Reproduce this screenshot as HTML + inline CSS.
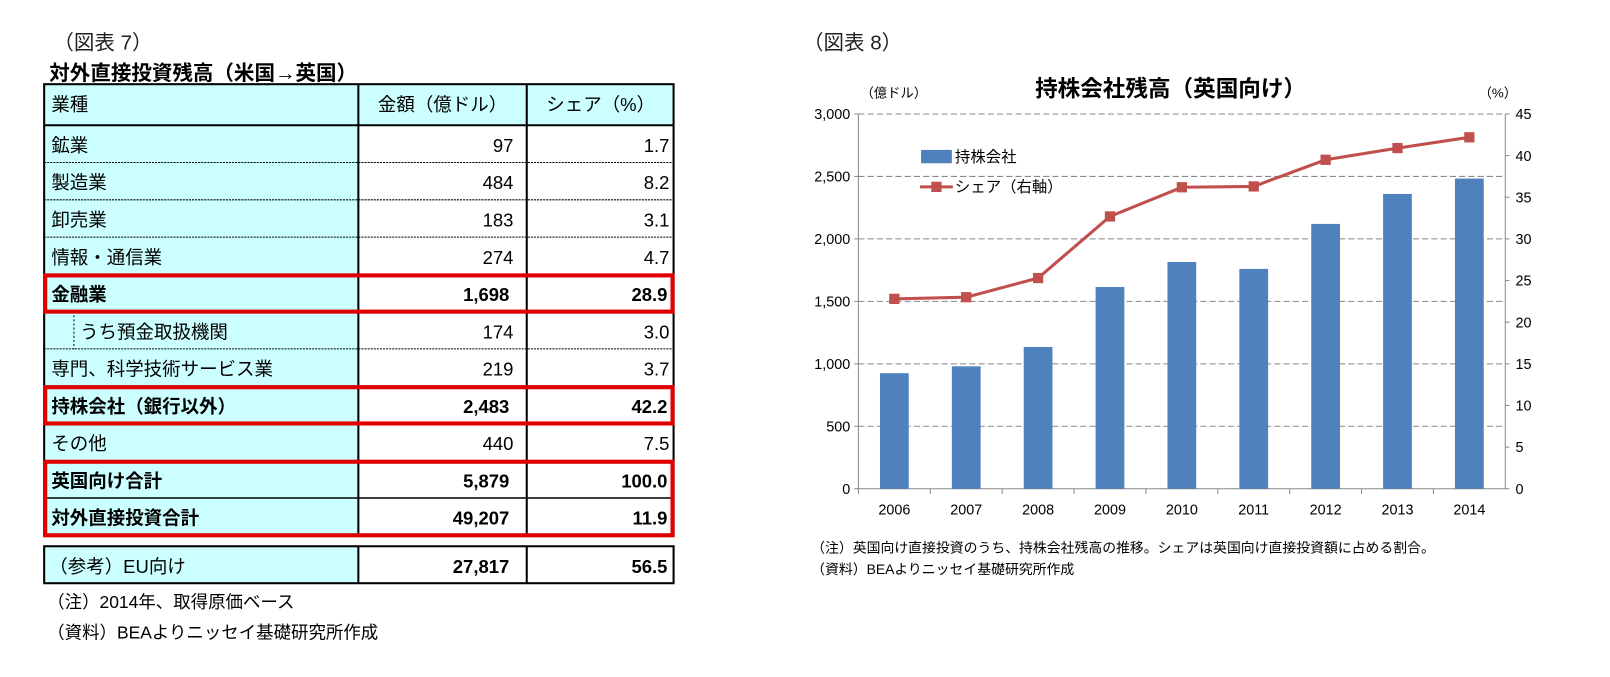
<!DOCTYPE html>
<html><head><meta charset="utf-8">
<style>
body{margin:0;background:#fff;width:1610px;height:672px;overflow:hidden;font-family:"Liberation Sans","Noto Sans CJK JP",sans-serif;}
svg text{font-family:"Liberation Sans","Noto Sans CJK JP",sans-serif;}
</style></head><body>
<svg width="1610" height="672">
<g transform="scale(1.0268)">
<g id="tbl"></g>
<g id="chart"></g>
</g>
</svg>
<script>
const NS='http://www.w3.org/2000/svg';
function mk(parent,tag,attrs,txt){const e=document.createElementNS(NS,tag);for(const k in attrs)e.setAttribute(k,attrs[k]);if(txt!==undefined)e.textContent=txt;parent.appendChild(e);return e;}
const T=document.getElementById('tbl');
let t=mk(T,'text',{x:52,y:48,'font-size':20,fill:'#222','font-family':'Liberation Serif, Noto Serif CJK SC, serif'},'（図表 7）');

t=mk(T,'text',{x:48,y:78,'font-size':20,'font-weight':'bold',fill:'#000'},'対外直接投資残高（米国→英国）');

const rowLabels=['鉱業','製造業','卸売業','情報・通信業','金融業','うち預金取扱機関','専門、科学技術サービス業','持株会社（銀行以外）','その他','英国向け合計','対外直接投資合計'];
const rowAmt=['97','484','183','274','1,698','174','219','2,483','440','5,879','49,207'];
const rowShare=['1.7','8.2','3.1','4.7','28.9','3.0','3.7','42.2','7.5','100.0','11.9'];
const bold=[false,false,false,false,true,false,false,true,false,true,true];
const X0=43,X1=349,X2=513,X3=656,CY='#ccffff';
mk(T,'rect',{x:X0,y:82,width:X3-X0,height:40,fill:CY});
const hy=108;
t=mk(T,'text',{x:50,y:hy,'font-size':18},'業種');
t=mk(T,'text',{x:431,y:hy,'font-size':18,'text-anchor':'middle'},'金額（億ドル）');
t=mk(T,'text',{x:585,y:hy,'font-size':18,'text-anchor':'middle'},'シェア（%）');
const RH=36.3;
for(let i=0;i<rowLabels.length;i++){
  const y=122+i*RH;
  mk(T,'rect',{x:X0,y:y,width:X1-X0,height:RH,fill:CY});
  const fw=bold[i]?'bold':'normal';
  const lx=i===5?78:50;
  t=mk(T,'text',{x:lx,y:y+26,'font-size':18,'font-weight':fw},rowLabels[i]);
  
  t=mk(T,'text',{x:bold[i]?496:500,y:y+26,'font-size':18,'font-weight':fw,'text-anchor':'end'},rowAmt[i]);
  
  t=mk(T,'text',{x:bold[i]?650:652,y:y+26,'font-size':18,'font-weight':fw,'text-anchor':'end'},rowShare[i]);
  
  if(i>0){const solid=(i===4||i===5||i===7||i===8||i===9||i===10);
    mk(T,'line',{x1:X0,x2:X3,y1:y,y2:y,stroke:'#000','stroke-width':solid?1.5:1,'stroke-dasharray':solid?'':'2,1'});}
}
mk(T,'line',{x1:72,x2:72,y1:303,y2:340,stroke:'#000','stroke-dasharray':'2,2'});
const yEnd=122+rowLabels.length*RH;
mk(T,'line',{x1:X0,x2:X3,y1:122,y2:122,stroke:'#000','stroke-width':2});
mk(T,'rect',{x:X0,y:82,width:X3-X0,height:yEnd-82,fill:'none',stroke:'#000','stroke-width':2});
mk(T,'line',{x1:X1,x2:X1,y1:82,y2:yEnd,stroke:'#000','stroke-width':2});
mk(T,'line',{x1:X2,x2:X2,y1:82,y2:yEnd,stroke:'#000','stroke-width':2});
[[4,1],[7,1],[9,2]].forEach(([r,n])=>{const b=mk(T,'rect',{x:X0+1,y:122+r*RH+1,width:X3-X0-2,height:n*RH-1,fill:'none',stroke:'#e00000','stroke-width':4});
});
mk(T,'rect',{x:X0,y:532,width:X1-X0,height:36,fill:CY});
mk(T,'rect',{x:X0,y:532,width:X3-X0,height:36,fill:'none',stroke:'#000','stroke-width':2});
mk(T,'line',{x1:X1,x2:X1,y1:532,y2:568,stroke:'#000','stroke-width':2});
mk(T,'line',{x1:X2,x2:X2,y1:532,y2:568,stroke:'#000','stroke-width':2});
t=mk(T,'text',{x:48,y:558,'font-size':18},'（参考）EU向け');
t=mk(T,'text',{x:496,y:558,'font-size':18,'font-weight':'bold','text-anchor':'end'},'27,817');
t=mk(T,'text',{x:650,y:558,'font-size':18,'font-weight':'bold','text-anchor':'end'},'56.5');
t=mk(T,'text',{x:46,y:592,'font-size':17},'（注）2014年、取得原価ベース');
t=mk(T,'text',{x:46,y:622,'font-size':17},'（資料）BEAよりニッセイ基礎研究所作成');
</script>
<script>
const years=['2006','2007','2008','2009','2010','2011','2012','2013','2014'];
const holdings=[925,980,1135,1615,1815,1760,2120,2360,2483];
const share=[22.8,23.0,25.3,32.7,36.2,36.3,39.5,40.9,42.2];
const leftTicks=[0,500,1000,1500,2000,2500,3000];
const leftTickLabels=['0','500','1,000','1,500','2,000','2,500','3,000'];
const rightTicks=[0,5,10,15,20,25,30,35,40,45];
(function(){
const C=document.getElementById('chart');
const PL=836,PR=1466,PT=111,PB=476;
const yL=v=>PB-(v/3000)*(PB-PT);
const yR=v=>PB-(v/45)*(PB-PT);
const bw=(PR-PL)/years.length;
const xC=i=>PL+bw*(i+0.5);
let t=mk(C,'text',{x:782,y:48,'font-size':20,fill:'#222','font-family':'Liberation Serif, Noto Serif CJK SC, serif'},'（図表 8）');

t=mk(C,'text',{x:1140,y:94,'font-size':22,'font-weight':'bold','text-anchor':'middle'},'持株会社残高（英国向け）');

t=mk(C,'text',{x:838,y:95,'font-size':13},'（億ドル）');
t=mk(C,'text',{x:1440,y:95,'font-size':13},'（%）');
leftTicks.forEach((v,i)=>{const y=yL(v);
  if(v>0){const g=mk(C,'line',{x1:PL,x2:PR,y1:y,y2:y,stroke:'#888','stroke-dasharray':'6,3'});}
  mk(C,'line',{x1:PL-4,x2:PL,y1:y,y2:y,stroke:'#888'});
  const l=mk(C,'text',{x:PL-8,y:y+5,'font-size':14,'text-anchor':'end'},leftTickLabels[i]);
  });
rightTicks.forEach(v=>{const y=yR(v);mk(C,'line',{x1:PR,x2:PR+4,y1:y,y2:y,stroke:'#888'});
  const l=mk(C,'text',{x:PR+10,y:y+5,'font-size':14},String(v));
  });
mk(C,'line',{x1:PL,x2:PL,y1:PT,y2:PB,stroke:'#888'});
mk(C,'line',{x1:PR,x2:PR,y1:PT,y2:PB,stroke:'#888'});
mk(C,'line',{x1:PL,x2:PR,y1:PB,y2:PB,stroke:'#888'});
years.forEach((yr,i)=>{
  mk(C,'line',{x1:PL+bw*i,x2:PL+bw*i,y1:PB,y2:PB+5,stroke:'#888'});
  const b=mk(C,'rect',{x:xC(i)-14,y:yL(holdings[i]),width:28,height:PB-yL(holdings[i]),fill:'#4f81bd'});
  
  const l=mk(C,'text',{x:xC(i),y:PB+25,'font-size':14,'text-anchor':'middle'},yr);
  });
const pts=share.map((v,i)=>xC(i)+','+yR(v)).join(' ');
const ln=mk(C,'polyline',{points:pts,fill:'none',stroke:'#c0504d','stroke-width':3});

share.forEach((v,i)=>{const m=mk(C,'rect',{x:xC(i)-5,y:yR(v)-5,width:10,height:10,fill:'#c0504d'});
  });
const lg=mk(C,'g',{});
mk(lg,'rect',{x:897,y:146,width:30,height:13,fill:'#4f81bd'});
mk(lg,'text',{x:930,y:158,'font-size':15},'持株会社');
mk(lg,'line',{x1:896,x2:928,y1:182,y2:182,stroke:'#c0504d','stroke-width':3});
mk(lg,'rect',{x:907,y:177,width:10,height:10,fill:'#c0504d'});
mk(lg,'text',{x:930,y:187,'font-size':15},'シェア（右軸）');
t=mk(C,'text',{x:790,y:538,'font-size':13.5},'（注）英国向け直接投資のうち、持株会社残高の推移。シェアは英国向け直接投資額に占める割合。');

t=mk(C,'text',{x:790,y:559,'font-size':13.5},'（資料）BEAよりニッセイ基礎研究所作成');

})();
</script>
</body></html>
